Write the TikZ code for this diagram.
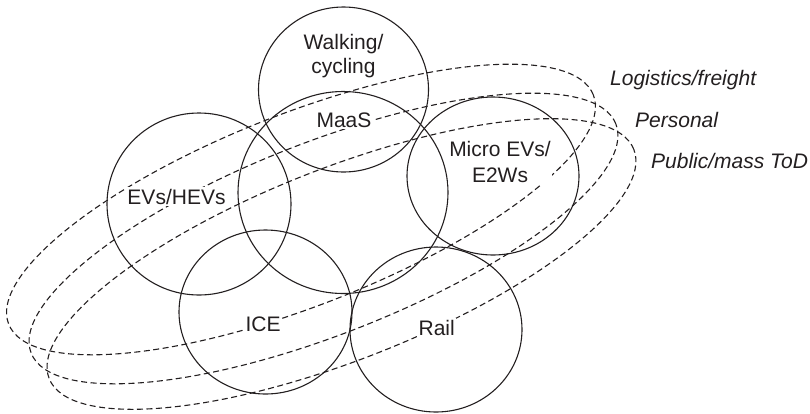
\documentclass[tikz,border=0pt]{standalone}
\usepackage{fontspec}
\setmainfont{Liberation Sans}
\definecolor{ink}{RGB}{35,31,32}
\begin{document}
\begin{tikzpicture}[x=1pt, y=1pt,
  every node/.style={font=\fontsize{21}{24}\selectfont, text=ink},
  ring/.style={draw=ink, line width=1.1pt},
  segment/.style={draw=ink, line width=1.1pt, dash pattern=on 6pt off 3.5pt},
  tag/.style={fill=white, inner sep=1.5pt, align=center},
  sector/.style={font=\fontsize{21}{24}\selectfont\itshape, anchor=base west, inner sep=0pt}]
  \useasboundingbox (0,0) rectangle (810,-413);

  % transport segments (dashed ellipses)
  \draw[segment] (301,-209.5) circle [x radius=314, y radius=96, rotate=21.4];
  \draw[segment] (323.5,-238.5) circle [x radius=314, y radius=96, rotate=21.4];
  \draw[segment] (341.5,-264) circle [x radius=314, y radius=96, rotate=21.4];

  % technology / mode sets
  \draw[ring] (343.5,-89.5) circle [x radius=85, y radius=82.5];
  \draw[ring] (343,-192.5) circle [x radius=105, y radius=101];
  \draw[ring] (199,-204) circle [x radius=92, y radius=91];
  \draw[ring] (493,-176) circle [x radius=86, y radius=79];
  \draw[ring] (265.5,-312) circle [x radius=86.5, y radius=82];
  \draw[ring] (436,-329.5) circle [x radius=86, y radius=82.5];

  % set labels
  \node[tag] (walk) at (343.5,-56.5) {Walking/\\cycling};
  \node[tag, anchor=base] (maas) at (344,-127.3) {MaaS};
  \node[tag, anchor=base] (ev) at (176.5,-204) {EVs/HEVs};
  \node[tag, font=\fontsize{21}{25.5}\selectfont] (micro) at (500,-162) {Micro EVs/\\E2Ws};
  \node[tag, anchor=base] (ice) at (263,-331.7) {ICE};
  \node[tag, anchor=base] (rail) at (436.7,-335) {Rail};

  % segment labels
  \node[sector] (logistics) at (610,-85) {Logistics/freight};
  \node[sector] (personal) at (635,-127.5) {Personal};
  \node[sector] (public) at (651,-168) {Public/mass ToD};
\end{tikzpicture}
\end{document}
